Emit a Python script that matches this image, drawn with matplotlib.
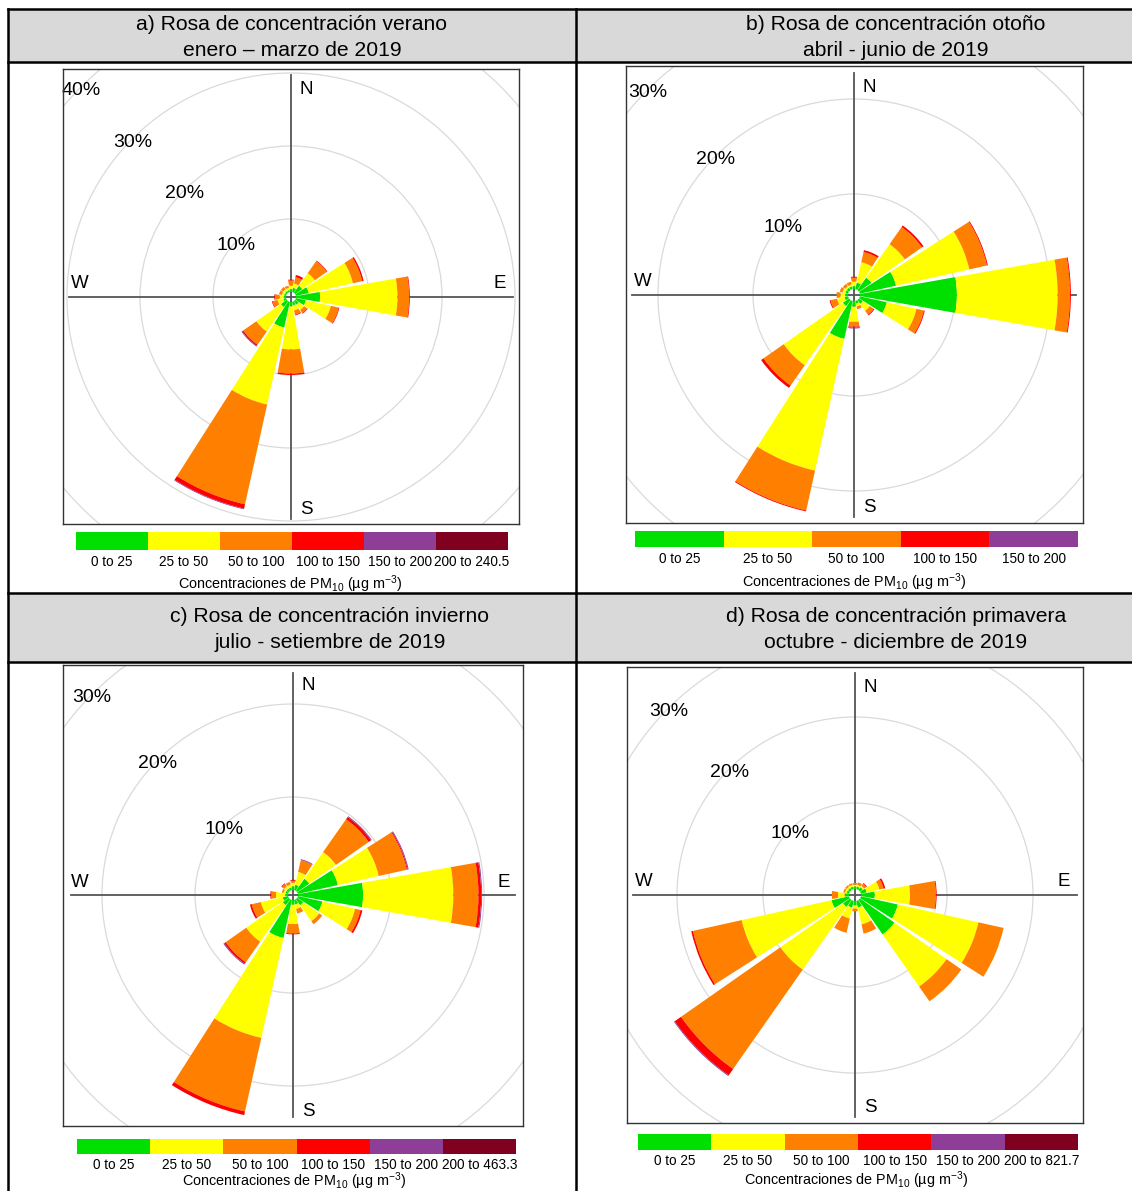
import numpy as np
import matplotlib
matplotlib.use("Agg")
import matplotlib.pyplot as plt
from matplotlib.patches import Wedge, Circle, Rectangle

plt.rcParams["font.family"] = ["Liberation Sans", "DejaVu Sans"]
plt.rcParams["mathtext.fontset"] = "custom"
plt.rcParams["mathtext.rm"] = "Liberation Sans"
plt.rcParams["mathtext.it"] = "Liberation Sans"

W, H = 1132, 1191

# === Data: frequency (%) per 22.5 deg sector, one row per concentration class ===
# sector order: N, NNE, NE, ENE, E, ESE, SE, SSE, S, SSW, SW, WSW, W, WNW, NW, NNW
directions = np.arange(16) * 22.5
classes = ["0 to 25", "25 to 50", "50 to 100", "100 to 150", "150 to 200"]
colors = ["#00E000", "#FFFF00", "#FF8000", "#FF0000", "#8E3E96", "#800020"]

rosa_a = [
    [0.4, 0.6, 1.2, 1.8, 3.3, 1.4, 0.6, 0.5, 0.6, 3.6, 1.0, 0.4, 0.3, 0.3, 0.3, 0.3],
    [0.5, 0.6, 2.1, 6.2, 10.6, 3.5, 0.9, 0.7, 5.9, 10.8, 4.1, 0.8, 0.6, 0.3, 0.3, 0.3],
    [0.7, 0.9, 2.0, 1.3, 1.6, 1.1, 0.5, 0.6, 3.3, 14.0, 2.2, 0.7, 0.6, 0.4, 0.4, 0.3],
    [0.1, 0.3, 0.1, 0.2, 0.1, 0.1, 0.1, 0.1, 0.2, 0.6, 0.2, 0.1, 0.1, 0.0, 0.0, 0.0],
    [0.0, 0.0, 0.0, 0.0, 0.0, 0.0, 0.0, 0.0, 0.0, 0.1, 0.1, 0.0, 0.0, 0.0, 0.0, 0.0],
    [0.0, 0.0, 0.0, 0.0, 0.0, 0.0, 0.0, 0.0, 0.0, 0.0, 0.0, 0.0, 0.0, 0.0, 0.0, 0.0],
]
rosa_b = [
    [0.3, 0.7, 1.6, 3.9, 10.2, 2.9, 0.5, 0.3, 0.6, 4.1, 0.8, 0.4, 0.3, 0.3, 0.3, 0.3],
    [0.5, 2.2, 4.3, 7.9, 10.6, 3.2, 0.9, 0.3, 1.6, 14.2, 7.6, 0.8, 0.5, 0.3, 0.2, 0.2],
    [0.4, 1.1, 2.2, 1.9, 1.3, 0.8, 0.5, 0.3, 0.5, 4.3, 2.6, 0.7, 0.4, 0.3, 0.3, 0.3],
    [0.1, 0.2, 0.2, 0.1, 0.1, 0.1, 0.1, 0.0, 0.1, 0.1, 0.3, 0.1, 0.0, 0.0, 0.0, 0.0],
    [0.0, 0.0, 0.0, 0.0, 0.0, 0.0, 0.0, 0.0, 0.1, 0.0, 0.0, 0.0, 0.0, 0.0, 0.0, 0.0],
]
rosa_c = [
    [0.4, 0.6, 1.6, 4.4, 7.0, 2.7, 0.8, 0.5, 0.5, 4.2, 0.8, 0.6, 0.3, 0.3, 0.3, 0.3],
    [0.4, 1.4, 3.5, 4.5, 9.7, 3.6, 2.1, 0.5, 2.1, 11.0, 4.8, 2.4, 1.0, 0.2, 0.3, 0.3],
    [0.2, 1.3, 4.3, 3.1, 2.7, 0.6, 0.4, 0.5, 1.0, 8.1, 2.7, 1.0, 0.5, 0.2, 0.3, 0.3],
    [0.1, 0.0, 0.3, 0.1, 0.3, 0.2, 0.0, 0.0, 0.1, 0.4, 0.2, 0.2, 0.1, 0.0, 0.1, 0.0],
    [0.0, 0.1, 0.1, 0.1, 0.1, 0.0, 0.0, 0.0, 0.0, 0.0, 0.1, 0.0, 0.0, 0.0, 0.0, 0.0],
    [0.0, 0.0, 0.0, 0.0, 0.0, 0.0, 0.0, 0.0, 0.0, 0.0, 0.0, 0.0, 0.0, 0.0, 0.0, 0.0],
]
rosa_d = [
    [0.3, 0.3, 0.4, 0.7, 1.6, 4.4, 4.9, 0.8, 0.5, 0.8, 1.0, 2.1, 0.5, 0.3, 0.3, 0.3],
    [0.2, 0.2, 0.2, 1.5, 4.1, 9.6, 7.4, 2.0, 0.4, 1.3, 8.9, 10.7, 0.8, 0.2, 0.2, 0.2],
    [0.2, 0.3, 0.3, 0.5, 3.0, 3.0, 2.1, 1.1, 0.3, 1.7, 14.1, 5.8, 0.7, 0.2, 0.2, 0.2],
    [0.0, 0.0, 0.1, 0.2, 0.1, 0.0, 0.0, 0.0, 0.0, 0.0, 0.9, 0.2, 0.0, 0.0, 0.0, 0.0],
    [0.0, 0.0, 0.0, 0.0, 0.0, 0.0, 0.0, 0.0, 0.0, 0.0, 0.1, 0.0, 0.0, 0.0, 0.0, 0.0],
    [0.0, 0.0, 0.0, 0.0, 0.0, 0.0, 0.0, 0.0, 0.0, 0.0, 0.0, 0.0, 0.0, 0.0, 0.0, 0.0],
]

labels_a = classes + ["200 to 240.5"]
labels_b = classes
labels_c = classes + ["200 to 463.3"]
labels_d = classes + ["200 to 821.7"]

titles = [
    "a) Rosa de concentración verano\nenero – marzo de 2019",
    "b) Rosa de concentración otoño\nabril - junio de 2019",
    "c) Rosa de concentración invierno\njulio - setiembre de 2019",
    "d) Rosa de concentración primavera\noctubre - diciembre de 2019",
]
ring_labels_a = [10, 20, 30, 40]
ring_labels = [10, 20, 30]

fig = plt.figure(figsize=(W / 100, H / 100), dpi=100)

# --- background "table" in pixel coordinates ---
bg = fig.add_axes([0, 0, 1, 1])
bg.set_xlim(0, W)
bg.set_ylim(H, 0)
bg.axis("off")
for y0, y1 in [(9, 62), (593, 662)]:
    bg.add_patch(Rectangle((8, y0), W - 8, y1 - y0, color="#D9D9D9", lw=0, zorder=0))
for y in [9, 62, 593, 662]:
    bg.plot([8, W], [y, y], color="black", lw=1.8, zorder=1)
for x in [8, 576]:
    bg.plot([x, x], [9, H], color="black", lw=1.8, zorder=1)

title_pos = [(292, 24), (896, 24), (330, 617), (896, 617)]
for (tx, ty), t in zip(title_pos, titles):
    l1, l2 = t.split("\n")
    bg.text(tx, ty, l1, ha="center", va="center", fontsize=15.2)
    bg.text(tx, ty + 26, l2, ha="center", va="center", fontsize=15.2)


def draw_rose(box, center, k, hole, bands, ring_lab):
    left, top, right, bottom = box
    cx, cy = center
    ax = fig.add_axes([left / W, 1 - bottom / H, (right - left) / W, (bottom - top) / H])
    ax.set_xlim((left - cx) / k, (right - cx) / k)
    ax.set_ylim((cy - bottom) / k, (cy - top) / k)
    ax.set_xticks([])
    ax.set_yticks([])
    for s in ax.spines.values():
        s.set_color("#333333")
        s.set_linewidth(1.0)
    h = hole / k
    for r in [10, 20, 30, 40, 50]:
        ax.add_patch(Circle((0, 0), h + r, fill=False, ec="#DADADA", lw=0.9, zorder=1))
    L = 222 / k
    ax.plot([0, 0], [-L, L], color="#555555", lw=1.3, zorder=2)
    ax.plot([-L, L], [0, 0], color="#555555", lw=1.3, zorder=2)
    fs = 13.5
    bw, bh = right - left, bottom - top
    ax.text(0.5 + 15 / bw, 1 - 21 / bh, "N", transform=ax.transAxes,
            ha="center", va="center", fontsize=fs, zorder=2)
    ax.text(0.5 + 15 / bw, 15 / bh, "S", transform=ax.transAxes,
            ha="center", va="center", fontsize=fs, zorder=2)
    ax.text(17 / bw, 0.5 + 13 / bh, "W", transform=ax.transAxes,
            ha="center", va="center", fontsize=fs, zorder=2)
    ax.text(1 - 19 / bw, 0.5 + 13 / bh, "E", transform=ax.transAxes,
            ha="center", va="center", fontsize=fs, zorder=2)
    for r in ring_lab:
        rr = h + r
        ax.text(rr * np.cos(np.radians(135)), rr * np.sin(np.radians(135)) - 3.5 / k, f"{r}%",
                ha="center", va="center", fontsize=14, zorder=2)
    bands = np.array(bands)
    cum = h + np.cumsum(bands, axis=0)
    for i, b in enumerate(directions):
        for j in range(bands.shape[0]):
            if bands[j, i] <= 0:
                continue
            ax.add_patch(Wedge((0, 0), cum[j, i], 90 - b - 10, 90 - b + 10,
                               width=bands[j, i], color=colors[j], lw=0, zorder=3))


def draw_legend(x0, x1, y0, y1, ylab, ytit, labels):
    n = len(labels)
    w = (x1 - x0) / n
    for j, lab in enumerate(labels):
        bg.add_patch(Rectangle((x0 + j * w, y0), w, y1 - y0, color=colors[j], lw=0))
        bg.text(x0 + (j + 0.5) * w, ylab, lab, ha="center", va="center", fontsize=9.8)
    bg.text((x0 + x1) / 2 - 2, ytit, "Concentraciones de PM$_{10}$ (µg m$^{-3}$)",
            ha="center", va="center", fontsize=10.4)


draw_rose((63, 69, 519, 524), (291, 297), 7.3, 5, rosa_a, ring_labels_a)
draw_rose((626, 66, 1083, 523), (854, 295), 9.5, 6, rosa_b, ring_labels)
draw_rose((63, 665, 523, 1126), (293, 895), 9.3, 5, rosa_c, ring_labels)
draw_rose((627, 667, 1083, 1123), (855, 895), 8.6, 6, rosa_d, ring_labels)

draw_legend(76, 508, 532, 550, 562, 584, labels_a)
draw_legend(635, 1078, 531, 547, 559, 582, labels_b)
draw_legend(77, 516, 1139, 1154, 1165, 1181, labels_c)
draw_legend(638, 1078, 1134, 1150, 1161, 1180, labels_d)

fig.savefig("out.png", dpi=100)
